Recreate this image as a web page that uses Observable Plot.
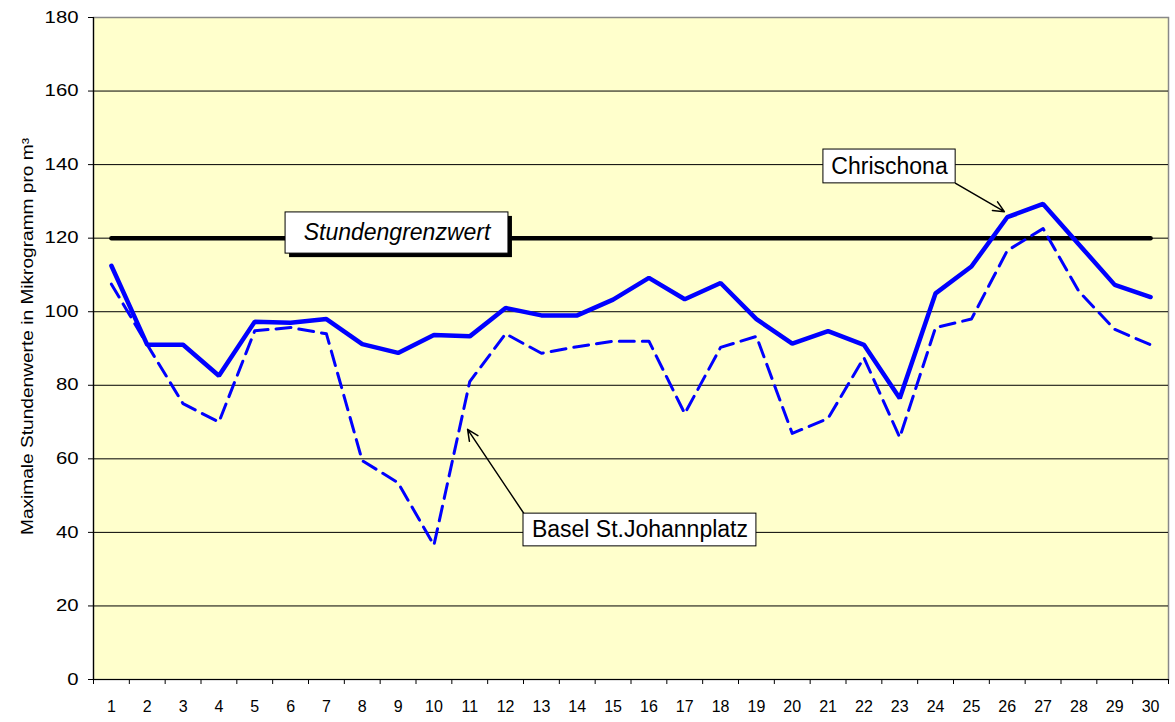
<!DOCTYPE html>
<html>
<head>
<meta charset="utf-8">
<script src="https://cdn.jsdelivr.net/npm/d3@7"></script>
<script src="https://cdn.jsdelivr.net/npm/@observablehq/plot@0.6"></script>
<style>
  html, body { margin: 0; padding: 0; background: #ffffff; }
  #chart { width: 1175px; height: 722px; }
</style>
</head>
<body>
<div id="chart"></div>
<script>
// ---- data ----
const days = d3.range(1, 31);
const chrischona = [112.5, 91, 91, 82.6, 97.3, 97, 98, 91.2, 88.8, 93.7, 93.3, 101, 99, 99, 103.3, 109.2, 103.4, 107.8, 98, 91.3, 94.7, 91, 76.5, 105, 112.3, 125.7, 129.3, 118.3, 107.3, 104];
const basel = [107.5, 91, 75, 70, 94.8, 95.7, 94, 59.5, 53.5, 36.5, 81, 94, 88.7, 90.5, 92, 92, 72.3, 90.3, 93.3, 66.9, 71, 87.5, 65.8, 95.7, 98, 116.6, 122.6, 105.5, 95.2, 91];
const limitValue = 120;
const yTicks = [0, 20, 40, 60, 80, 100, 120, 140, 160, 180];
const gridValues = [20, 40, 60, 80, 100, 120, 140, 160];
const yLabel = "Maximale Stundenwerte in Mikrogramm pro m³";

// annotation boxes (data coordinates)
const labels = [
  {text: "Stundengrenzwert", x1: 5.86, x2: 12.08, y1: 115.8, y2: 127.0, italic: true, shadow: true},
  {text: "Chrischona", x1: 20.87, x2: 24.56, y1: 134.9, y2: 144.1, italic: false, shadow: false},
  {text: "Basel St.Johannplatz", x1: 12.5, x2: 19.0, y1: 36.2, y2: 45.1, italic: false, shadow: false}
];
const arrows = [
  {x1: 24.56, y1: 134.9, x2: 25.92, y2: 127.2},
  {x1: 12.5, y1: 45.3, x2: 10.94, y2: 68.0}
];

const chrData = days.map((d, i) => ({day: d, v: chrischona[i]}));
const basData = days.map((d, i) => ({day: d, v: basel[i]}));
const limitData = days.map(d => ({day: d, v: limitValue}));
const boundaries = d3.range(0.5, 31, 1);

const font = "'Liberation Sans', Arial, sans-serif";
const cx = d => (d.x1 + d.x2) / 2;
const cy = d => (d.y1 + d.y2) / 2;

const plot = Plot.plot({
  width: 1175,
  height: 722,
  marginLeft: 93,
  marginRight: 7,
  marginTop: 17,
  marginBottom: 43,
  style: {fontFamily: font, fontSize: "16px", background: "#ffffff", color: "#000"},
  x: {domain: [0.5, 30.5], axis: null},
  y: {domain: [0, 180], axis: null},
  marks: [
    Plot.frame({fill: "#FFFFCC", stroke: "#888888", strokeWidth: 1.5}),
    Plot.ruleY(gridValues, {stroke: "#000", strokeWidth: 1}),
    Plot.ruleX([0.5], {stroke: "#000", strokeWidth: 1.2}),
    Plot.ruleY([0], {stroke: "#000", strokeWidth: 1.2}),
    // y axis
    Plot.axisY({ticks: yTicks, tickSize: 5, tickPadding: 10, label: null, fontSize: 16, tickFormat: d => String(d)}),
    Plot.text([yLabel], {frameAnchor: "left", dx: -66, dy: -12, rotate: -90, fontSize: 16, textAnchor: "middle", lineAnchor: "middle", text: d => d}),
    // x axis
    Plot.axisX({ticks: boundaries, tickSize: 5, tickFormat: () => "", label: null}),
    Plot.text(days, {x: d => d, frameAnchor: "bottom", dy: 27, fontSize: 16, lineAnchor: "middle", text: d => String(d), fill: "#000", ariaLabel: "xticklabels"}),
    // limit line
    Plot.line(limitData, {x: "day", y: "v", stroke: "#000", strokeWidth: 4.5, strokeLinecap: "round"}),
    // series
    Plot.line(basData, {x: "day", y: "v", stroke: "#0000FF", strokeWidth: 3, strokeDasharray: "15,8"}),
    Plot.line(chrData, {x: "day", y: "v", stroke: "#0000FF", strokeWidth: 4.5, strokeLinejoin: "miter"}),
    // arrows
    Plot.arrow(arrows, {x1: "x1", y1: "y1", x2: "x2", y2: "y2", stroke: "#000", strokeWidth: 1.5, headLength: 12, headAngle: 50}),
    // label boxes
    Plot.rect(labels.filter(d => d.shadow), {x1: "x1", x2: "x2", y1: "y1", y2: "y2", fill: "#000", dx: 4, dy: 4}),
    Plot.rect(labels, {x1: "x1", x2: "x2", y1: "y1", y2: "y2", fill: "#fff", stroke: "#000", strokeWidth: 1}),
    Plot.text(labels.filter(d => d.italic), {x: cx, y: cy, text: "text", fontSize: 23, fontStyle: "italic", fill: "#000"}),
    Plot.text(labels.filter(d => !d.italic), {x: cx, y: cy, text: "text", fontSize: 23, fill: "#000"})
  ]
});
document.getElementById("chart").appendChild(plot);

// stretch texts to match the reference's glyph rendering
const svg = d3.select(plot);
svg.selectAll('g[aria-label="y-axis tick label"] text').each(function() {
  const n = this.textContent.length;
  d3.select(this).attr("textLength", n * 11.3).attr("lengthAdjust", "spacingAndGlyphs");
});
svg.selectAll("text").filter(function() { return this.textContent === yLabel; })
  .attr("textLength", 397).attr("lengthAdjust", "spacingAndGlyphs");
</script>
</body>
</html>
